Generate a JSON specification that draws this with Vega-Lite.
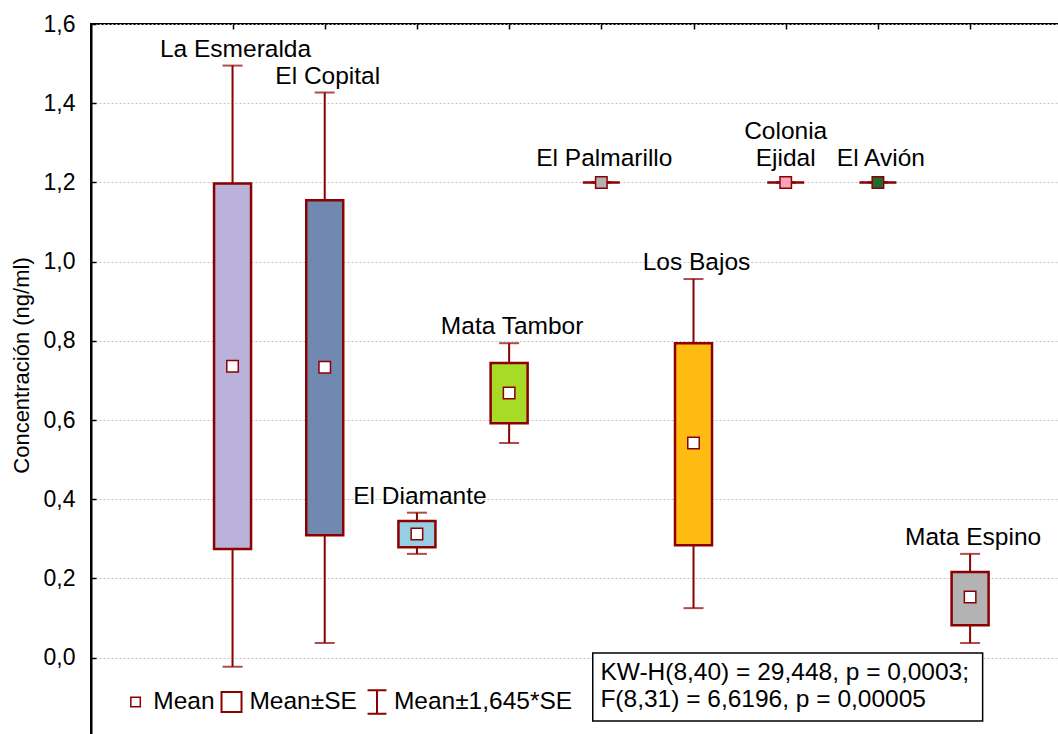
{
  "$schema": "https://vega.github.io/schema/vega-lite/v6.json",
  "autosize": "none",
  "width": 968,
  "height": 716,
  "padding": {"left": 91, "top": 24, "right": 0, "bottom": 0},
  "background": "white",
  "config": {
    "view": {"stroke": "black", "strokeWidth": 2},
    "font": "Liberation Sans",
    "text": {"font": "Liberation Sans"}
  },
  "datasets": {
    "sites": [
      {"site": "La Esmeralda", "label": "La Esmeralda", "i": 1, "lo": -0.023, "slo": 0.274, "mean": 0.736, "shi": 1.197, "hi": 1.495},
      {"site": "El Copital", "label": "El Copital", "i": 2, "lo": 0.037, "slo": 0.309, "mean": 0.733, "shi": 1.155, "hi": 1.427},
      {"site": "El Diamante", "label": "El Diamante", "i": 3, "lo": 0.262, "slo": 0.279, "mean": 0.312, "shi": 0.345, "hi": 0.366},
      {"site": "Mata Tambor", "label": "Mata Tambor", "i": 4, "lo": 0.542, "slo": 0.592, "mean": 0.668, "shi": 0.744, "hi": 0.794},
      {"site": "El Palmarillo", "label": "El Palmarillo", "i": 5, "lo": 1.2, "slo": 1.2, "mean": 1.2, "shi": 1.2, "hi": 1.2},
      {"site": "Los Bajos", "label": "Los Bajos", "i": 6, "lo": 0.125, "slo": 0.284, "mean": 0.542, "shi": 0.794, "hi": 0.956},
      {"site": "Colonia Ejidal", "label": "Colonia\nEjidal", "i": 7, "lo": 1.2, "slo": 1.2, "mean": 1.2, "shi": 1.2, "hi": 1.2},
      {"site": "El Avión", "label": "El Avión", "i": 8, "lo": 1.2, "slo": 1.2, "mean": 1.2, "shi": 1.2, "hi": 1.2},
      {"site": "Mata Espino", "label": "Mata Espino", "i": 9, "lo": 0.037, "slo": 0.082, "mean": 0.153, "shi": 0.216, "hi": 0.262}
    ],
    "legendText": [
      {"t": "Mean", "x": 0.14, "y": -0.112},
      {"t": "Mean±SE", "x": 1.183, "y": -0.112},
      {"t": "Mean±1,645*SE", "x": 2.75, "y": -0.112}
    ],
    "legendSym": [
      {"kind": "Mean", "x": -0.052, "y": -0.112},
      {"kind": "Mean±SE", "x": 0.989, "y": -0.112},
      {"kind": "Mean±1,645*SE", "x": 2.567, "y": -0.112}
    ],
    "stat": [
      {"x": 4.907, "x2": 9.136, "y": 0.0116, "y2": -0.16}
    ],
    "statText": [
      {"t": "KW-H(8,40) = 29,448, p = 0,0003;", "x": 4.99, "y": -0.039},
      {"t": "F(8,31) = 6,6196, p = 0,00005", "x": 4.99, "y": -0.107}
    ]
  },
  "layer": [
    {
      "data": {"name": "sites"},
      "mark": {"type": "rule", "stroke": "#8B0000", "strokeWidth": 2},
      "encoding": {
        "x": {"field": "i", "type": "quantitative",
              "scale": {"domain": [-0.481, 9.91], "nice": false, "zero": false},
              "axis": {"orient": "top", "values": [1,2,3,4,5,6,7,8,9], "labels": false, "domain": false, "grid": false, "ticks": true, "tickSize": -5, "tickColor": "black", "tickWidth": 1.5, "title": null}},
        "y": {"field": "lo", "type": "quantitative",
              "scale": {"domain": [-0.208, 1.6], "nice": false, "zero": false},
              "axis": {"title": "Concentración (ng/ml)", "titleFont": "Liberation Sans", "titleFontSize": 22, "titleFontWeight": "normal", "titleColor": "black", "titlePadding": 10, "titleY": 341,
                       "values": [0, 0.2, 0.4, 0.6, 0.8, 1.0, 1.2, 1.4, 1.6],
                       "labelExpr": "replace(format(datum.value, '.1f'), '.', ',')",
                       "labelFont": "Liberation Sans", "labelFontSize": 23, "labelColor": "black", "labelPadding": 21,
                       "tickSize": -5, "tickColor": "black", "tickWidth": 1.5,
                       "domainColor": "black", "domainWidth": 2,
                       "grid": true, "gridColor": "#c4c4c4", "gridDash": [2, 2], "gridWidth": 1}},
        "y2": {"field": "hi"}
      }
    },
    {
      "data": {"name": "sites"},
      "mark": {"type": "tick", "orient": "horizontal", "color": "#8B0000", "size": 20, "thickness": 2},
      "encoding": {
        "x": {"field": "i", "type": "quantitative"},
        "y": {"field": "hi", "type": "quantitative"}
      }
    },
    {
      "data": {"name": "sites"},
      "mark": {"type": "tick", "orient": "horizontal", "color": "#8B0000", "size": 20, "thickness": 2},
      "encoding": {
        "x": {"field": "i", "type": "quantitative"},
        "y": {"field": "lo", "type": "quantitative"}
      }
    },
    {
      "data": {"name": "sites"},
      "mark": {"type": "bar", "width": 37, "stroke": "#8B0000", "strokeWidth": 2.5},
      "encoding": {
        "x": {"field": "i", "type": "quantitative"},
        "y": {"field": "slo", "type": "quantitative"},
        "y2": {"field": "shi"},
        "fill": {"field": "site", "type": "nominal", "legend": null,
                 "scale": {"domain": ["La Esmeralda", "El Copital", "El Diamante", "Mata Tambor", "El Palmarillo", "Los Bajos", "Colonia Ejidal", "El Avión", "Mata Espino"],
                           "range": ["#BAB2DB", "#7189B0", "#97CFE2", "#A8DA28", "#B3B3B3", "#FFBB11", "#FCA3BC", "#1F6B32", "#B3B3B3"]}}
      }
    },
    {
      "data": {"name": "sites"},
      "mark": {"type": "point", "shape": "square", "size": 132, "filled": true, "stroke": "#8B0000", "strokeWidth": 1.5, "opacity": 1},
      "encoding": {
        "x": {"field": "i", "type": "quantitative"},
        "y": {"field": "mean", "type": "quantitative"},
        "fill": {"condition": {"test": "datum.shi == datum.slo", "field": "site", "type": "nominal", "legend": null}, "value": "white"}
      }
    },
    {
      "data": {"name": "sites"},
      "transform": [{"filter": "datum.shi != datum.slo"}],
      "mark": {"type": "text", "baseline": "bottom", "align": "center", "dy": -4, "dx": 3, "fontSize": 24.5, "font": "Liberation Sans", "color": "black"},
      "encoding": {
        "x": {"field": "i", "type": "quantitative"},
        "y": {"field": "hi", "type": "quantitative"},
        "text": {"field": "label"}
      }
    },
    {
      "data": {"name": "sites"},
      "transform": [{"filter": "datum.shi == datum.slo && datum.site != 'Colonia Ejidal'"}],
      "mark": {"type": "text", "baseline": "bottom", "align": "center", "dy": -11, "dx": 3, "fontSize": 24.5, "font": "Liberation Sans", "color": "black"},
      "encoding": {
        "x": {"field": "i", "type": "quantitative"},
        "y": {"field": "hi", "type": "quantitative"},
        "text": {"field": "label"}
      }
    },
    {
      "data": {"name": "sites"},
      "transform": [{"filter": "datum.site == 'Colonia Ejidal'"}],
      "mark": {"type": "text", "baseline": "bottom", "align": "center", "dy": -38, "dx": 0, "fontSize": 24.5, "font": "Liberation Sans", "color": "black", "lineBreak": "\n", "lineHeight": 27},
      "encoding": {
        "x": {"field": "i", "type": "quantitative"},
        "y": {"field": "hi", "type": "quantitative"},
        "text": {"field": "label"}
      }
    },
    {
      "data": {"name": "legendSym"},
      "transform": [{"filter": "datum.kind == 'Mean'"}],
      "mark": {"type": "point", "shape": "square", "size": 90, "filled": true, "fill": "white", "stroke": "#8B0000", "strokeWidth": 1.5, "opacity": 1},
      "encoding": {
        "x": {"field": "x", "type": "quantitative"},
        "y": {"field": "y", "type": "quantitative"}
      }
    },
    {
      "data": {"name": "legendSym"},
      "transform": [{"filter": "datum.kind == 'Mean±SE'"}],
      "mark": {"type": "point", "shape": "square", "size": 400, "filled": true, "fill": "white", "stroke": "#8B0000", "strokeWidth": 2, "opacity": 1},
      "encoding": {
        "x": {"field": "x", "type": "quantitative"},
        "y": {"field": "y", "type": "quantitative"}
      }
    },
    {
      "data": {"name": "legendSym"},
      "transform": [{"filter": "datum.kind == 'Mean±1,645*SE'"}],
      "mark": {"type": "point", "shape": "M-0.8,-1H0.8M0,-1V1M-0.8,1H0.8", "size": 560, "filled": false, "stroke": "#8B0000", "strokeWidth": 2, "opacity": 1},
      "encoding": {
        "x": {"field": "x", "type": "quantitative"},
        "y": {"field": "y", "type": "quantitative"}
      }
    },
    {
      "data": {"name": "legendText"},
      "mark": {"type": "text", "align": "left", "baseline": "middle", "fontSize": 24.5, "font": "Liberation Sans", "color": "black"},
      "encoding": {
        "x": {"field": "x", "type": "quantitative"},
        "y": {"field": "y", "type": "quantitative"},
        "text": {"field": "t"}
      }
    },
    {
      "data": {"name": "stat"},
      "mark": {"type": "rect", "fill": "white", "stroke": "black", "strokeWidth": 1.5},
      "encoding": {
        "x": {"field": "x", "type": "quantitative"},
        "x2": {"field": "x2"},
        "y": {"field": "y", "type": "quantitative"},
        "y2": {"field": "y2"}
      }
    },
    {
      "data": {"name": "statText"},
      "mark": {"type": "text", "align": "left", "baseline": "middle", "fontSize": 24.5, "font": "Liberation Sans", "color": "black"},
      "encoding": {
        "x": {"field": "x", "type": "quantitative"},
        "y": {"field": "y", "type": "quantitative"},
        "text": {"field": "t"}
      }
    }
  ]
}
